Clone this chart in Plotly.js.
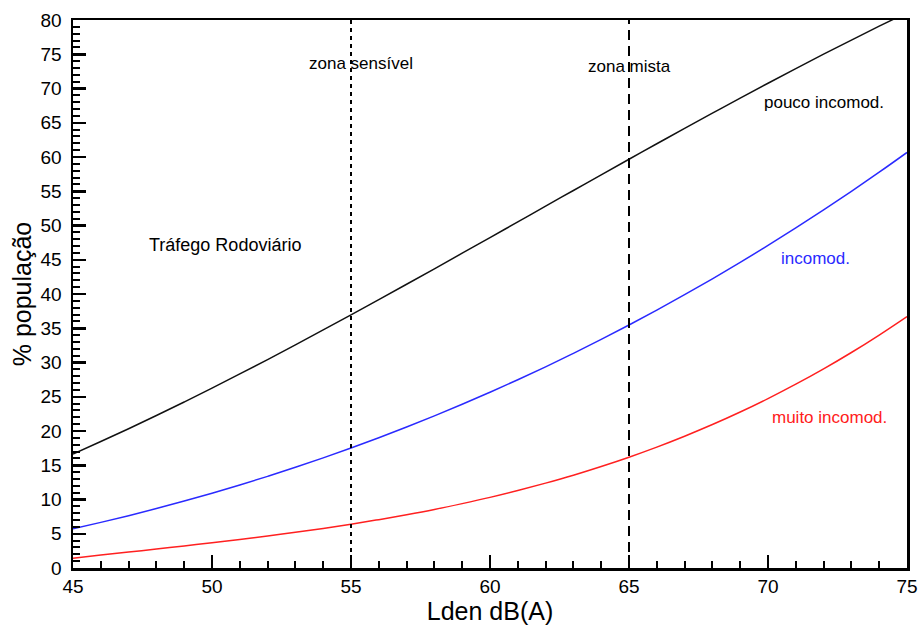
<!DOCTYPE html>
<html>
<head>
<meta charset="utf-8">
<script src="https://cdn.plot.ly/plotly-3.0.1.min.js"></script>
<style>html,body{margin:0;padding:0;background:#fff}#chart{width:919px;height:630px}</style>
</head>
<body>
<div id="chart"></div>
<script>
// Lden dB(A)
const lden = [45,46,47,48,49,50,51,52,53,54,55,56,57,58,59,60,61,62,63,64,65,66,67,68,69,70,71,72,73,74,75];
// % população — pouco incomodados (black)
const poucoIncomod = [16.64,18.46,20.33,22.26,24.24,26.26,28.33,30.43,32.58,34.75,36.95,39.18,41.42,43.68,45.96,48.24,50.53,52.83,55.11,57.40,59.67,61.93,64.18,66.40,68.60,70.77,72.91,75.01,77.07,79.10,81.07];
// % população — incomodados (blue)
const incomod = [5.72,6.66,7.64,8.68,9.77,10.92,12.12,13.38,14.70,16.08,17.52,19.02,20.58,22.21,23.90,25.66,27.48,29.37,31.34,33.37,35.47,37.65,39.90,42.22,44.62,47.09,49.65,52.28,54.99,57.78,60.66];
// % população — muito incomodados (red)
const muitoIncomod = [1.43,1.88,2.32,2.77,3.22,3.68,4.16,4.67,5.21,5.78,6.39,7.06,7.78,8.55,9.40,10.31,11.31,12.39,13.55,14.82,16.18,17.65,19.24,20.94,22.77,24.73,26.83,29.07,31.46,34.01,36.71];
// zone limits
const zonaSensivel = 55;
const zonaMista = 65;
const yLimits = [0, 80];

const traces = [
  {x: lden, y: poucoIncomod, mode: 'lines', line: {color: '#111111', width: 1.5, shape: 'spline', smoothing: 1}, hoverinfo: 'skip'},
  {x: lden, y: incomod, mode: 'lines', line: {color: '#2a2aff', width: 1.5, shape: 'spline', smoothing: 1}, hoverinfo: 'skip'},
  {x: lden, y: muitoIncomod, mode: 'lines', line: {color: '#ff2020', width: 1.5, shape: 'spline', smoothing: 1}, hoverinfo: 'skip'},
  {x: [zonaSensivel, zonaSensivel], y: yLimits, mode: 'lines', line: {color: '#000', width: 2, dash: '4px,4px'}, hoverinfo: 'skip'},
  {x: [zonaMista, zonaMista], y: yLimits, mode: 'lines', line: {color: '#000', width: 2, dash: '10px,6px'}, hoverinfo: 'skip'}
];

const font = {family: 'Liberation Sans, Arial, Helvetica, sans-serif', color: '#000'};
const ann = (text, x, y, color, size) => ({text: text, x: x, y: y, xref: 'x', yref: 'y', showarrow: false,
  font: Object.assign({}, font, {size: size || 17, color: color || '#000'}), xanchor: 'center', yanchor: 'middle'});

const layout = {
  width: 919, height: 630,
  margin: {l: 73, r: 12, t: 20, b: 62},
  paper_bgcolor: '#fff', plot_bgcolor: '#fff',
  showlegend: false,
  font: font,
  xaxis: {
    range: [45, 75], dtick: 5, tick0: 45, ticks: 'inside', ticklen: 13, tickwidth: 2.5, tickcolor: '#000',
    showline: true, linewidth: 2.5, linecolor: '#000', mirror: true, showgrid: false, zeroline: false,
    tickfont: Object.assign({}, font, {size: 19}),
    minor: {dtick: 1, ticks: 'inside', ticklen: 7, tickwidth: 2, tickcolor: '#000', showgrid: false},
    title: {text: 'Lden dB(A)', font: Object.assign({}, font, {size: 25}), standoff: 4}
  },
  yaxis: {
    range: [0, 80], dtick: 5, tick0: 0, ticks: 'inside', ticklen: 13, tickwidth: 2.5, tickcolor: '#000',
    showline: true, linewidth: 2.5, linecolor: '#000', mirror: true, showgrid: false, zeroline: false,
    tickfont: Object.assign({}, font, {size: 19}), ticklabelstandoff: 5,
    minor: {dtick: 1, ticks: 'inside', ticklen: 7, tickwidth: 2, tickcolor: '#000', showgrid: false},
    title: {text: '% população', font: Object.assign({}, font, {size: 25}), standoff: 2}
  },
  annotations: [
    ann('zona sensível', 55.37, 73.7),
    ann('zona mista', 65.0, 73.2),
    ann('Tráfego Rodoviário', 50.45, 47.2, null, 18),
    ann('pouco incomod.', 72.0, 68.0),
    ann('incomod.', 71.7, 45.2, '#2a2aff'),
    ann('muito incomod.', 72.2, 21.9, '#ff2020')
  ]
};

Plotly.newPlot('chart', traces, layout, {staticPlot: true, displayModeBar: false});
</script>
</body>
</html>
